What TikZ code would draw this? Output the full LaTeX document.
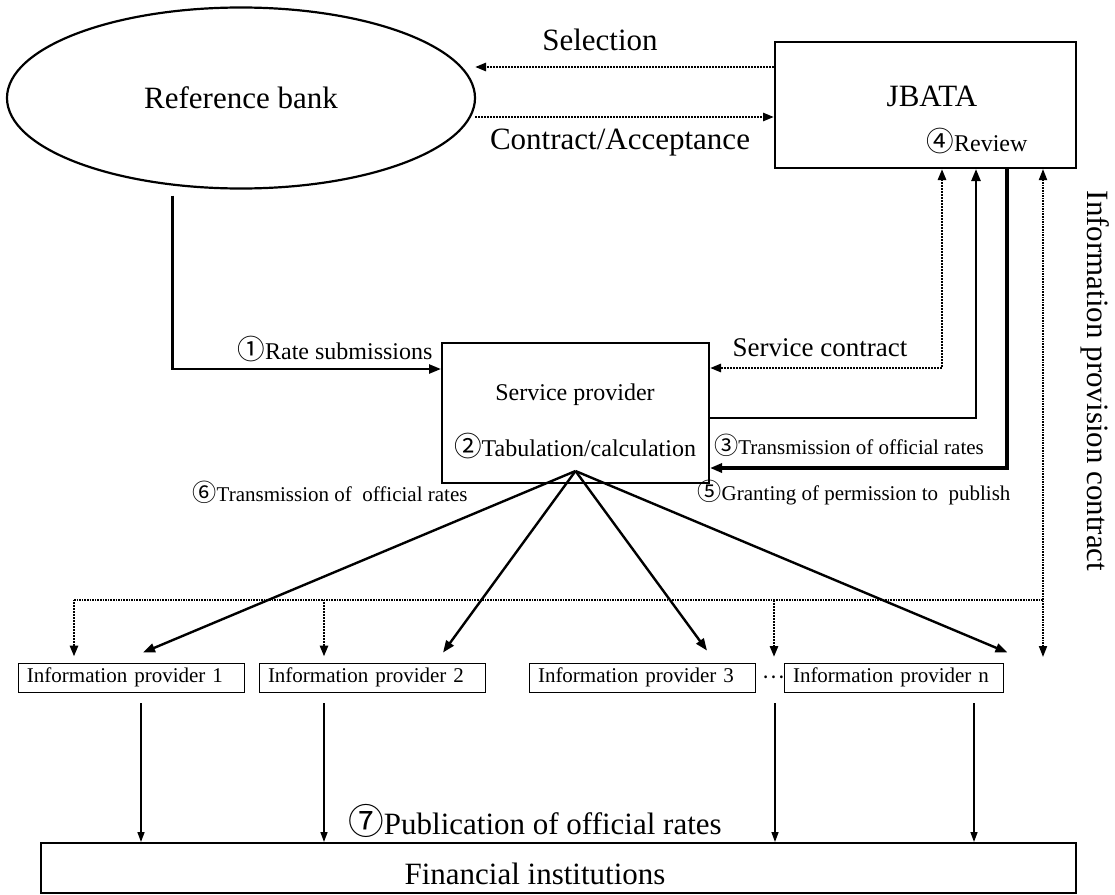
\documentclass[tikz,border=0pt]{standalone}
\usepackage{fontspec}
\setmainfont{Liberation Serif}
\newfontfamily\circfont{Noto Sans CJK JP}
\usetikzlibrary{arrows.meta, shapes.geometric}
\newcommand{\cnum}[1]{{\circfont\fontsize{1.15em}{1.15em}\selectfont #1}}

\begin{document}
\begin{tikzpicture}[x=1pt, y=-1pt, >={Triangle[length=12pt,width=9pt]},
    box/.style={draw, line width=2pt, inner sep=0pt},
    ipbox/.style={draw, line width=0.9pt, inner xsep=9pt, inner ysep=0pt, text width=208pt, align=left, minimum height=29pt, font=\fontsize{21}{24}\selectfont},
    flow/.style={line width=2.4pt},
    heavy/.style={line width=4pt},
    contract/.style={line width=2.6pt, dash pattern=on 2pt off 1pt, >={Triangle[length=11pt,width=8pt]}},
    infoline/.style={line width=1.8pt, dash pattern=on 1.6pt off 1pt, >={Triangle[length=11pt,width=8pt]}},
    pub/.style={line width=1.5pt, >={Triangle[length=10pt,width=7pt]}},
    big/.style={font=\fontsize{31}{36}\selectfont},
    mid/.style={font=\fontsize{24}{28}\selectfont},
    small/.style={font=\fontsize{21}{24}\selectfont}]
            \useasboundingbox (0,0) rectangle (1115,894);

            \node[draw, ellipse, line width=2.2pt, minimum width=468pt, minimum height=181pt, big] (bank) at (241,98) {Reference bank};

            \node[box, minimum width=301pt, minimum height=126pt] (jbata) at (925.5,105) {};
            \node[big] (jbatatitle) at (932,96) {JBATA};
            \node[mid] (review) at (977,141) {\cnum{④}Review};

            \node[box, minimum width=267pt, minimum height=140pt] (sp) at (575.5,413) {};
            \node[mid] (sptitle) at (575,395) {Service provider};
            \node[mid] (sptask) at (575,446) {\cnum{②}Tabulation/calculation};

            \node[ipbox] (ip1) at (131,677.5) {Information provider 1};
            \node[ipbox] (ip2) at (372,677.5) {Information provider 2};
            \node[ipbox] (ip3) at (642,677.5) {Information provider 3};
            \node[ipbox, text width=201pt] (ipn) at (893.5,677.5) {Information provider n};
            \node[small, inner sep=0pt] (dots) at (774,677) {{\circfont ⋯}};

            \node[box, minimum width=1035pt, minimum height=50pt] (fin) at (558.5,868) {};
            \node[big] (fintext) at (535,874) {Financial institutions};

            % Labels
            \node[big] (sel) at (600,40) {Selection};
            \node[big] (acc) at (620,143) {Contract/Acceptance};
            \node[mid] (rs) at (335,349) {\cnum{①}Rate submissions};
            \node[font=\fontsize{27}{32}\selectfont] (sc) at (820,348) {Service contract};
            \node[small] (t3) at (849,445) {\cnum{③}Transmission of official rates};
            \node[small] (g5) at (854,493) {\cnum{⑤}Granting of permission to\ \ publish};
            \node[small] (t6) at (330,492) {\cnum{⑥}Transmission of\ \ official rates};
            \node[big] (pub7) at (535,821) {\cnum{⑦}Publication of official rates};
            \node[big, rotate=-90] (ipc) at (1095,381) {Information provision contract};

            % Bank and JBATA
            \coordinate (selend) at (475,67);
            \coordinate (accstart) at (475,117);
            \draw[contract,->] ([yshift=38pt]jbata.west) -- (selend);
            \draw[contract,->] (accstart) -- (accstart -| jbata.west);

            % Connections around the service provider
            \draw[flow,->] ([yshift=-10pt]bank.232) |- ([yshift=44pt]sp.west);
            \draw[contract,<->] ([xshift=16.5pt]jbata.south) |- ([yshift=45pt]sp.east);
            \draw[flow,->] ([yshift=-5pt]sp.east) -| ([xshift=50.5pt]jbata.south);
            \draw[heavy,->] ([xshift=81.5pt]jbata.south) |- ([yshift=-55pt]sp.east);

            % Information provision contract
            \coordinate (icend) at (1043,657);
            \coordinate (bus) at (74,600);
            \draw[infoline,<->] ([xshift=117.5pt]jbata.south) -- (icend);
            \draw[infoline] (bus) -- (bus -| icend);
            \draw[contract,<-] ([xshift=-57pt,yshift=6pt]ip1.north) -- ++(0,-57);
            \draw[contract,<-] ([xshift=-48pt,yshift=6pt]ip2.north) -- ++(0,-57);
            \draw[contract,<-] (dots |- icend) -- ++(0,-57);

            % Transmission to information providers
            \coordinate (fan) at ([yshift=13pt]sp.south);
            \draw[flow,->] (fan) -- ([xshift=12pt,yshift=10pt]ip1.north);
            \draw[flow,->] (fan) -- ([xshift=71pt,yshift=10pt]ip2.north);
            \draw[flow,->] (fan) -- ([xshift=65pt,yshift=12pt]ip3.north);
            \draw[flow,->] (fan) -- ([xshift=4pt,yshift=10pt]ipn.north east);

            % Publication
            \path (ip1.south) ++(10,11) coordinate (p1);
            \path (ip2.south) ++(-48,11) coordinate (p2);
            \path (ip1.south -| dots) ++(1,11) coordinate (p3);
            \path (ipn.south) ++(80.5,11) coordinate (p4);
            \foreach \p in {p1,p2,p3,p4}
                \draw[pub,->] (\p) -- (\p |- fin.north);
        \end{tikzpicture}
\end{document}
